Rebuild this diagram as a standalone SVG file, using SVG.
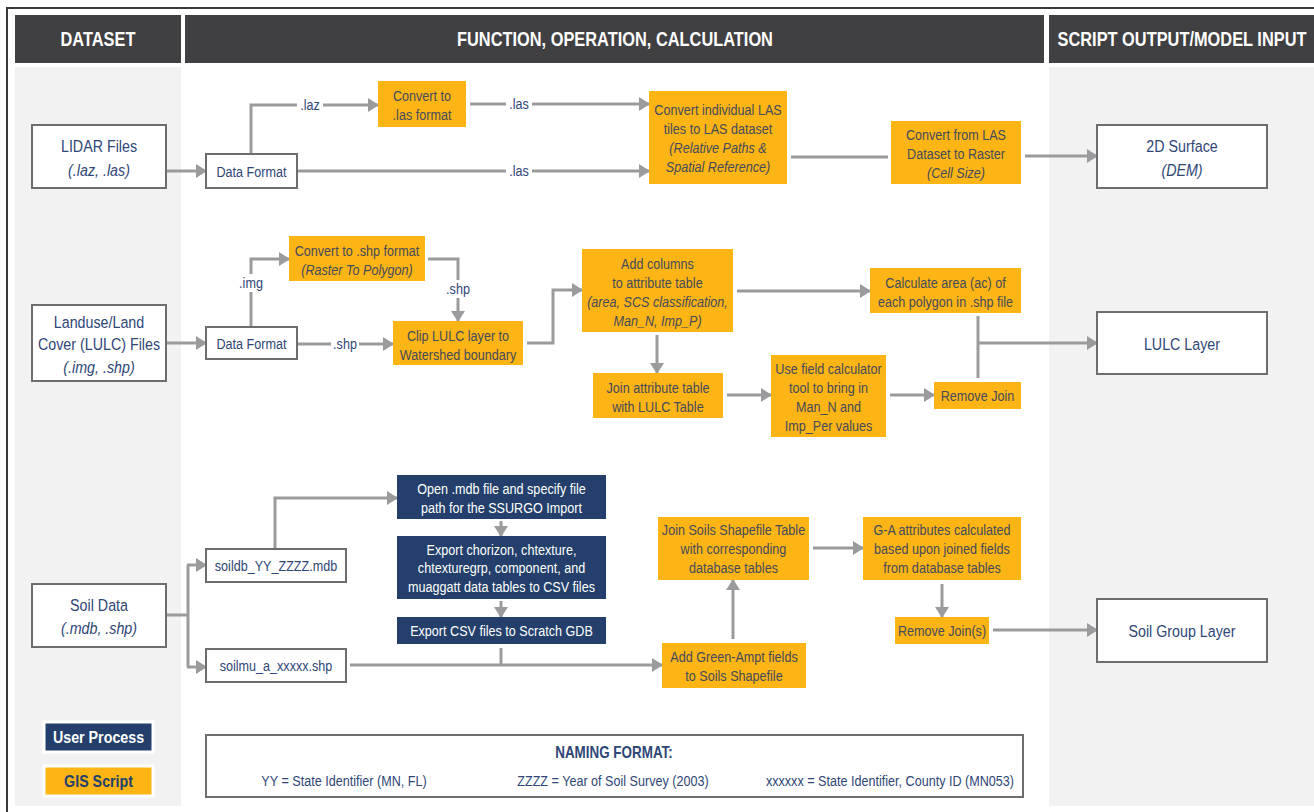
<svg xmlns="http://www.w3.org/2000/svg" width="1314" height="812" viewBox="0 0 1314 812">
<style>
text{font-family:"Liberation Sans",Arial,sans-serif;text-anchor:middle;transform-box:fill-box;transform-origin:center;transform:scaleX(0.84)}
.hdr{fill:#404042}
.hdrt{fill:#ffffff;font-size:19.5px;font-weight:bold}
.wbox{fill:#ffffff;stroke:#6d6d6d;stroke-width:2}
.obox{fill:#fdb515}
.nbox{fill:#243f6b}
.nt{fill:#2f4677;font-size:17px}
.ot{fill:#454a5a;font-size:15px}
.wt{fill:#ffffff;font-size:15px}
.it{font-style:italic}
.lbl{fill:#2f4677;font-size:15px}
.nm{fill:#2f4677;font-size:15px}
.con{fill:none;stroke:#9b9b9d;stroke-width:3}
.arr{marker-end:url(#ah)}
</style>
<defs>
<marker id="ah" markerUnits="userSpaceOnUse" markerWidth="11" markerHeight="14" refX="10" refY="7" orient="auto">
<path d="M0,0 L11,7 L0,14 z" fill="#9b9b9d"/>
</marker>
</defs>
<rect x="0" y="0" width="1314" height="812" fill="#ffffff"/>
<g id="frame">
<path d="M7,812 V8 H1314" fill="none" stroke="#3a3a3a" stroke-width="2"/>
<rect x="15" y="67" width="166" height="739" fill="#f2f2f2"/>
<rect x="1049" y="67" width="265" height="739" fill="#f2f2f2"/>
<rect class="hdr" x="15" y="15" width="166" height="48"/>
<rect class="hdr" x="185" y="15" width="859" height="48"/>
<rect class="hdr" x="1049" y="15" width="265" height="48"/>
<text class="hdrt" x="98" y="46">DATASET</text>
<text class="hdrt" x="615" y="46">FUNCTION, OPERATION, CALCULATION</text>
<text class="hdrt" x="1182" y="46">SCRIPT OUTPUT/MODEL INPUT</text>
</g>
<g id="connectors">
<path class="con arr" d="M166,171 H206"/>
<path class="con arr" d="M251,154 V105 H378"/>
<path class="con arr" d="M470,104 H649"/>
<path class="con arr" d="M297,171 H649"/>
<path class="con" d="M791,157 H888"/>
<path class="con arr" d="M1025,156 H1097"/>
<path class="con arr" d="M166,343 H206"/>
<path class="con arr" d="M251,327 V259 H289"/>
<path class="con arr" d="M428,259 H458 V321"/>
<path class="con arr" d="M297,344 H393"/>
<path class="con arr" d="M527,343 H553 V290 H582"/>
<path class="con arr" d="M737,291 H870"/>
<path class="con arr" d="M657,335 V373"/>
<path class="con arr" d="M727,395 H771"/>
<path class="con arr" d="M890,395 H934"/>
<path class="con" d="M978,316 V378"/>
<path class="con arr" d="M978,343 H1097"/>
<path class="con" d="M166,615 H188 M188,565 V667"/>
<path class="con arr" d="M187,565 H206"/>
<path class="con arr" d="M187,667 H206"/>
<path class="con arr" d="M275,549 V498 H397"/>
<path class="con arr" d="M501,521 V536"/>
<path class="con arr" d="M501,601 V617"/>
<path class="con" d="M501,648 V665"/>
<path class="con arr" d="M350,665 H662"/>
<path class="con arr" d="M733,639 V580"/>
<path class="con arr" d="M813,548 H863"/>
<path class="con arr" d="M942,584 V617"/>
<path class="con arr" d="M993,630 H1097"/>
<rect x="297" y="96" width="26" height="18" fill="#ffffff"/>
<text class="lbl" x="310" y="110">.laz</text>
<rect x="506" y="95" width="26" height="18" fill="#ffffff"/>
<text class="lbl" x="519" y="109">.las</text>
<rect x="506" y="162" width="26" height="18" fill="#ffffff"/>
<text class="lbl" x="519" y="176">.las</text>
<rect x="238" y="274" width="26" height="18" fill="#ffffff"/>
<text class="lbl" x="251" y="288">.img</text>
<rect x="445" y="280" width="26" height="18" fill="#ffffff"/>
<text class="lbl" x="458" y="294">.shp</text>
<rect x="331" y="335" width="28" height="18" fill="#ffffff"/>
<text class="lbl" x="345" y="349">.shp</text>
</g>
<g id="lidar"><rect class="wbox" x="32" y="125" width="134" height="63"/><text class="nt" x="99" y="152">LIDAR Files</text><text class="nt it" x="99" y="176">(.laz, .las)</text></g>
<g id="dataformat1"><rect class="wbox" x="206" y="154" width="91" height="34"/><text class="lbl" x="251.5" y="177">Data Format</text></g>
<g id="convertlas"><rect class="obox" x="378" y="81" width="88" height="46"/><text class="ot" x="422" y="101">Convert to</text><text class="ot" x="422" y="120">.las format</text></g>
<g id="convertindiv"><rect class="obox" x="649" y="91" width="138" height="93"/><text class="ot" x="718" y="115">Convert individual LAS</text><text class="ot" x="718" y="134">tiles to LAS dataset</text><text class="ot it" x="718" y="153">(Relative Paths &amp;</text><text class="ot it" x="718" y="172">Spatial Reference)</text></g>
<g id="convertraster"><rect class="obox" x="891" y="121" width="130" height="63"/><text class="ot" x="956" y="140">Convert from LAS</text><text class="ot" x="956" y="159">Dataset to Raster</text><text class="ot it" x="956" y="178">(Cell Size)</text></g>
<g id="surface2d"><rect class="wbox" x="1097" y="125" width="170" height="63"/><text class="nt" x="1182" y="152">2D Surface</text><text class="nt it" x="1182" y="176">(DEM)</text></g>
<g id="landuse"><rect class="wbox" x="32" y="305" width="134" height="76"/><text class="nt" x="99" y="328">Landuse/Land</text><text class="nt" x="99" y="350">Cover (LULC) Files</text><text class="nt it" x="99" y="373">(.img, .shp)</text></g>
<g id="dataformat2"><rect class="wbox" x="206" y="327" width="91" height="32"/><text class="lbl" x="251.5" y="349">Data Format</text></g>
<g id="convertshp"><rect class="obox" x="289" y="236" width="136" height="45"/><text class="ot" x="357" y="256">Convert to .shp format</text><text class="ot it" x="357" y="275">(Raster To Polygon)</text></g>
<g id="clip"><rect class="obox" x="393" y="321" width="130" height="44"/><text class="ot" x="458" y="341">Clip LULC layer to</text><text class="ot" x="458" y="360">Watershed boundary</text></g>
<g id="addcolumns"><rect class="obox" x="582" y="249" width="151" height="83"/><text class="ot" x="657.5" y="269">Add columns</text><text class="ot" x="657.5" y="288">to attribute table</text><text class="ot it" x="657.5" y="307">(area, SCS classification,</text><text class="ot it" x="657.5" y="326">Man_N, Imp_P)</text></g>
<g id="calcarea"><rect class="obox" x="870" y="268" width="151" height="45"/><text class="ot" x="945.5" y="288">Calculate area (ac) of</text><text class="ot" x="945.5" y="307">each polygon in .shp file</text></g>
<g id="joinattr"><rect class="obox" x="593" y="373" width="130" height="45"/><text class="ot" x="658" y="393">Join attribute table</text><text class="ot" x="658" y="412">with LULC Table</text></g>
<g id="fieldcalc"><rect class="obox" x="771" y="355" width="115" height="82"/><text class="ot" x="828.5" y="374">Use field calculator</text><text class="ot" x="828.5" y="393">tool to bring in</text><text class="ot" x="828.5" y="412">Man_N and</text><text class="ot" x="828.5" y="431">Imp_Per values</text></g>
<g id="removejoin"><rect class="obox" x="934" y="382" width="87" height="27"/><text class="ot" x="977.5" y="401">Remove Join</text></g>
<g id="lulclayer"><rect class="wbox" x="1097" y="312" width="170" height="62"/><text class="nt" x="1182" y="350">LULC Layer</text></g>
<g id="soildata"><rect class="wbox" x="32" y="584" width="134" height="63"/><text class="nt" x="99" y="611">Soil Data</text><text class="nt it" x="99" y="634">(.mdb, .shp)</text></g>
<g id="soildb"><rect class="wbox" x="206" y="549" width="140" height="33"/><text class="lbl" x="276" y="571">soildb_YY_ZZZZ.mdb</text></g>
<g id="soilmu"><rect class="wbox" x="206" y="649" width="140" height="33"/><text class="lbl" x="276" y="671">soilmu_a_xxxxx.shp</text></g>
<g id="openmdb"><rect class="nbox" x="397" y="475" width="209" height="44"/><text class="wt" x="501.5" y="494">Open .mdb file and specify file</text><text class="wt" x="501.5" y="513">path for the SSURGO Import</text></g>
<g id="exportchorizon"><rect class="nbox" x="397" y="536" width="209" height="63"/><text class="wt" x="501.5" y="555">Export chorizon, chtexture,</text><text class="wt" x="501.5" y="573">chtexturegrp, component, and</text><text class="wt" x="501.5" y="592">muaggatt data tables to CSV files</text></g>
<g id="exportcsv"><rect class="nbox" x="397" y="617" width="209" height="27"/><text class="wt" x="501.5" y="636">Export CSV files to Scratch GDB</text></g>
<g id="greenampt"><rect class="obox" x="662" y="643" width="144" height="45"/><text class="ot" x="734" y="662">Add Green-Ampt fields</text><text class="ot" x="734" y="681">to Soils Shapefile</text></g>
<g id="joinsoils"><rect class="obox" x="658" y="517" width="151" height="63"/><text class="ot" x="733.5" y="535">Join Soils Shapefile Table</text><text class="ot" x="733.5" y="554">with corresponding</text><text class="ot" x="733.5" y="573">database tables</text></g>
<g id="gaattr"><rect class="obox" x="863" y="517" width="158" height="63"/><text class="ot" x="942" y="535">G-A attributes calculated</text><text class="ot" x="942" y="554">based upon joined fields</text><text class="ot" x="942" y="573">from database tables</text></g>
<g id="removejoins"><rect class="obox" x="895" y="617" width="94" height="27"/><text class="ot" x="942" y="636">Remove Join(s)</text></g>
<g id="soilgroup"><rect class="wbox" x="1097" y="599" width="170" height="63"/><text class="nt" x="1182" y="637">Soil Group Layer</text></g>
<g id="legend">
<rect class="nbox" x="44" y="722" width="109" height="30" stroke="#ffffff" stroke-width="3"/>
<text x="98.5" y="743" fill="#ffffff" style="font-size:17px;font-weight:bold">User Process</text>
<rect class="obox" x="44" y="766" width="109" height="30" stroke="#ffffff" stroke-width="3"/>
<text x="98.5" y="787" fill="#243f6b" style="font-size:17px;font-weight:bold">GIS Script</text>
</g>
<g id="naming">
<rect class="wbox" x="206" y="735" width="817" height="62"/>
<text x="614" y="758" fill="#2f4677" style="font-size:16px;font-weight:bold">NAMING FORMAT:</text>
<text class="nm" x="344" y="786">YY = State Identifier (MN, FL)</text>
<text class="nm" x="613" y="786">ZZZZ = Year of Soil Survey (2003)</text>
<text class="nm" x="890" y="786">xxxxxx = State Identifier, County ID (MN053)</text>
</g>
</svg>
